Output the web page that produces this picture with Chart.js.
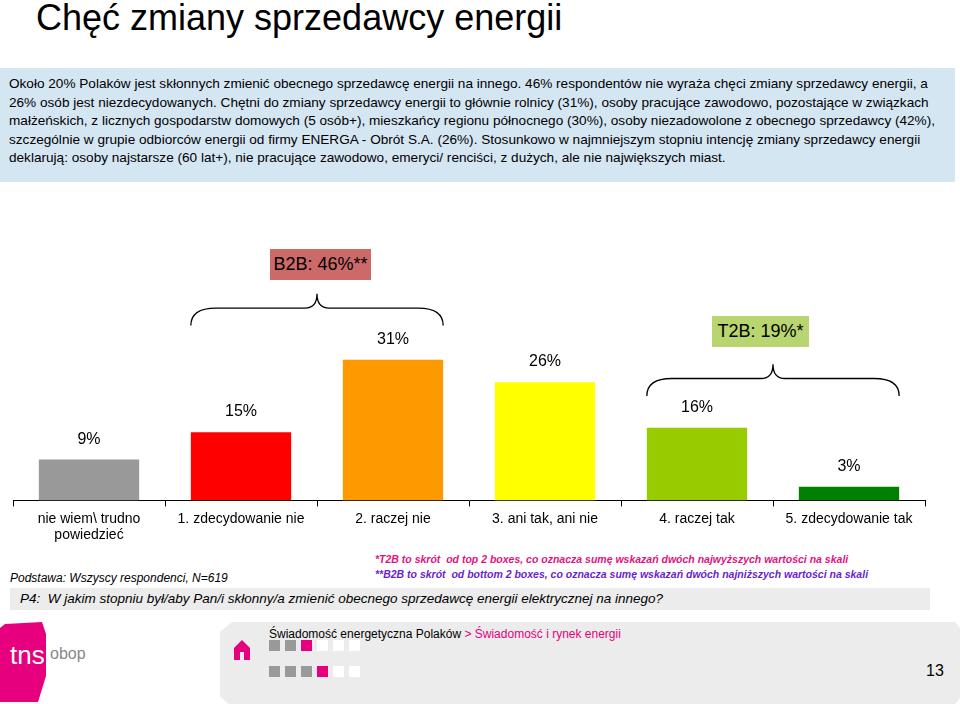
<!DOCTYPE html>
<html><head><meta charset="utf-8">
<script src="https://cdn.jsdelivr.net/npm/chart.js@4/dist/chart.umd.min.js"></script>
<style>
body{margin:0;width:960px;height:704px;position:relative;background:#fff;font-family:"Liberation Sans",Arial,sans-serif;overflow:hidden}
.a{position:absolute}
</style></head><body>
<div class="a" style="left:36px;top:-3px;font-size:36px;color:#000">Chęć zmiany sprzedawcy energii</div>
<div class="a" style="left:0;top:68px;width:955px;height:114px;background:#d5e6f3"></div>
<div class="a" style="left:9px;top:75px;width:945px;font-size:13.6px;line-height:18.6px;color:#000">Około 20% Polaków jest skłonnych zmienić obecnego sprzedawcę energii na innego. 46% respondentów nie wyraża chęci zmiany sprzedawcy energii, a 26% osób jest niezdecydowanych. Chętni do zmiany sprzedawcy energii to głównie rolnicy (31%), osoby pracujące zawodowo, pozostające w związkach małżeńskich, z licznych gospodarstw domowych (5 osób+), mieszkańcy regionu północnego (30%), osoby niezadowolone z obecnego sprzedawcy (42%), szczególnie w grupie odbiorców energii od firmy ENERGA - Obrót S.A. (26%). Stosunkowo w najmniejszym stopniu intencję zmiany sprzedawcy energii deklarują: osoby najstarsze (60 lat+), nie pracujące zawodowo, emeryci/ renciści, z dużych, ale nie największych miast.</div>
<div class="a" style="left:270px;top:249px;width:101px;height:31px;background:#cc6a6a;font-size:18px;line-height:31px;text-align:center">B2B: 46%**</div>
<div class="a" style="left:712px;top:316px;width:97px;height:31px;background:#b9d56f;font-size:18px;line-height:31px;text-align:center">T2B: 19%*</div>
<canvas id="c" class="a" style="left:0;top:228px"></canvas>
<div class="a" style="left:375px;top:552px;font-size:10.5px;font-style:italic;font-weight:bold;color:#e0147f;line-height:15px">*T2B to skrót&nbsp; od top 2 boxes, co oznacza sumę wskazań dwóch najwyższych wartości na skali<br><span style="color:#6a1fd0">**B2B to skrót&nbsp; od bottom 2 boxes, co oznacza sumę wskazań dwóch najniższych wartości na skali</span></div>
<div class="a" style="left:10px;top:571px;font-size:12px;font-style:italic">Podstawa: Wszyscy respondenci, N=619</div>
<div class="a" style="left:10px;top:588px;width:920px;height:22px;background:#ececec"></div>
<div class="a" style="left:20px;top:591px;font-size:13.5px;font-style:italic">P4:&nbsp; W jakim stopniu był/aby Pan/i skłonny/a zmienić obecnego sprzedawcę energii elektrycznej na innego?</div>
<svg class="a" style="left:0;top:618px" width="960" height="86">
<polygon points="232,4 955,4 960,10 960,80 955,86 228,86 220,78 220,14" fill="#ececec"/>
<polygon points="5,6 42,4 46,16 46,58 38,84 0,84 0,10" fill="#e6007e"/>
<text x="10" y="46" font-size="26" fill="#fff" font-family="Liberation Sans">tns</text>
<text x="50" y="41" font-size="16" fill="#888" font-family="Liberation Sans">obop</text>
<polygon points="242,22 234,30 234,42 240,42 240,34 244,34 244,42 250,42 250,30" fill="#e6007e"/>
<rect x="269" y="22" width="11" height="11" fill="#999"/><rect x="285" y="22" width="11" height="11" fill="#999"/><rect x="301" y="22" width="11" height="11" fill="#e6007e"/>
<rect x="317" y="22" width="11" height="11" fill="#fff"/><rect x="333" y="22" width="11" height="11" fill="#fff"/><rect x="349" y="22" width="11" height="11" fill="#fff"/>
<rect x="269" y="48" width="11" height="11" fill="#999"/><rect x="285" y="48" width="11" height="11" fill="#999"/><rect x="301" y="48" width="11" height="11" fill="#999"/><rect x="317" y="48" width="11" height="11" fill="#e6007e"/>
<rect x="333" y="48" width="11" height="11" fill="#fff"/><rect x="349" y="48" width="11" height="11" fill="#fff"/>
</svg>
<div class="a" style="left:269px;top:627px;font-size:12px">Świadomość energetyczna Polaków <span style="color:#e6007e">&gt; Świadomość i rynek energii</span></div>
<div class="a" style="left:926px;top:662px;font-size:16px">13</div>
<script>
const categories=[["nie wiem\\ trudno","powiedzieć"],"1. zdecydowanie nie","2. raczej nie","3. ani tak, ani nie","4. raczej tak","5. zdecydowanie tak"];
const values=[9,15,31,26,16,3];
const colors=["#999999","#ff0000","#ff9900","#ffff00","#99cc00","#008000"];
const braces=[{from:1,to:2,end:38.5,tip:45.5},{from:4,to:5,end:23,tip:30}];
const cv=document.getElementById('c');cv.width=960;cv.height=320;
const extra={id:'extra',afterDatasetsDraw(ch){
 const c=ch.ctx,x=ch.scales.x,y=ch.scales.y,m=ch.getDatasetMeta(0);
 c.save();c.fillStyle='#000';c.font='16px "Liberation Sans",Arial';c.textAlign='center';
 m.data.forEach((b,i)=>c.fillText(values[i]+'%',b.x,b.y-16));
 c.strokeStyle='#000';c.lineWidth=1.3;
 braces.forEach(br=>{
  const b1=m.data[br.from],b2=m.data[br.to];
  const l=b1.x-b1.width/2,r=b2.x+b2.width/2,mid=(l+r)/2;
  const ye=y.getPixelForValue(br.end),yt=y.getPixelForValue(br.tip),yf=(ye*0.45+yt*0.55);
  c.beginPath();c.moveTo(l,ye);c.quadraticCurveTo(l,yf,l+25,yf);c.lineTo(mid-12,yf);
  c.quadraticCurveTo(mid,yf,mid,yt);c.quadraticCurveTo(mid,yf,mid+12,yf);c.lineTo(r-25,yf);
  c.quadraticCurveTo(r,yf,r,ye);c.stroke();
 });
 c.restore();}};
new Chart(cv,{type:'bar',data:{labels:categories,datasets:[{data:values,backgroundColor:colors,barPercentage:0.66,categoryPercentage:1}]},
 options:{responsive:false,animation:false,layout:{padding:{left:13,right:35,top:0,bottom:0}},
 plugins:{legend:{display:false},tooltip:{enabled:false}},
 scales:{y:{display:false,min:0,max:60},
  x:{grid:{display:true,drawOnChartArea:false,color:'#000',tickLength:6,offset:true},border:{color:'#000'},
   ticks:{color:'#000',font:{size:14,family:'"Liberation Sans",Arial'},maxRotation:0,padding:4}}}},
 plugins:[extra]});
</script>
</body></html>
